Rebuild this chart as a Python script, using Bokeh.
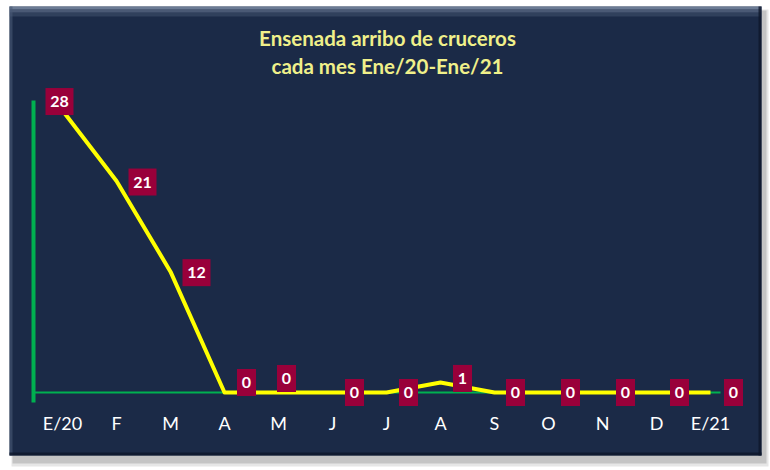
from bokeh.plotting import figure
from bokeh.models import Range1d, BoxAnnotation, Label, ColumnDataSource, FixedTicker
from bokeh.core.properties import value
from bokeh.embed import file_html
from bokeh.resources import INLINE

# ---- data ----
months = ["E/20", "F", "M", "A", "M", "J", "J", "A", "S", "O", "N", "D", "E/21"]
cruceros = [28, 21, 12, 0, 0, 0, 0, 1, 0, 0, 0, 0, 0]
title_lines = ["Ensenada arribo de cruceros", "cada mes Ene/20-Ene/21"]

# ---- label placement (pixels, style only) ----
label_dx = [-3, 26, 26, 22, 8, 22, 22, 22, 21, 22, 23, 23, 23]
label_dy = [9, -1, -1, 10, 14, 0, 0, 4, 0, 0, 0, 0, 0]   # upward

W, H = 770, 470
X0, DX = 62.0, 54.0      # pixel of first month, pixels per month
Y0, DY = 392.0, 10.07    # pixel of zero, pixels per unit


def X(px):
    return (px - X0) / DX


def Y(py):
    return (Y0 - py) / DY


p = figure(width=W, height=H, output_backend="svg", toolbar_location=None,
           x_range=Range1d(X(0), X(W)), y_range=Range1d(Y(H), Y(0)),
           min_border=0, outline_line_color=None,
           background_fill_color="white", border_fill_color="white")
p.grid.visible = False

# panel with shadow and bevel
def box(l, r, t, b, color, alpha=1.0):
    bx = BoxAnnotation(left=X(l), right=X(r), top=Y(t), bottom=Y(b),
                       fill_color=color, fill_alpha=alpha, line_color=None,
                       level="image")
    p.add_layout(bx)

box(11, 768, 9, 466, "#E6E6E6")
box(12, 766, 10, 463, "#C4C4C4")
box(9, 761, 6, 455, "#1B2A47")
box(9, 761, 6, 9, "#8090A8", 0.8)
box(9, 761, 9, 12, "#6A7A94", 0.6)
box(9, 761, 12, 16, "#5A6A85", 0.35)
box(9, 12, 6, 455, "#4A5A76", 0.6)
box(758, 761, 6, 455, "#0E172A", 0.8)
box(9, 761, 452, 455, "#0E172A", 0.8)

# axes
p.xaxis.fixed_location = 0
p.xaxis.bounds = (X(33), X(720))
p.xaxis.ticker = FixedTicker(ticks=list(range(len(months))))
p.xaxis.major_label_overrides = {i: m for i, m in enumerate(months)}
p.xaxis.axis_line_color = "#00B050"
p.xaxis.axis_line_width = 2
p.xaxis.major_tick_line_color = None
p.xaxis.minor_tick_line_color = None
p.xaxis.major_tick_out = 0
p.xaxis.major_tick_in = 0
p.xaxis.major_label_standoff = 19
p.xaxis.major_label_text_color = "white"
p.xaxis.major_label_text_font = "Lato"
p.xaxis.major_label_text_font_size = "18px"

p.yaxis.fixed_location = X(33)
p.yaxis.bounds = (Y(402), Y(100))
p.yaxis.ticker = FixedTicker(ticks=[])
p.yaxis.axis_line_color = "#00B050"
p.yaxis.axis_line_width = 4
p.yaxis.major_tick_line_color = None
p.yaxis.minor_tick_line_color = None
p.yaxis.major_label_text_color = None

# title
for i, t in enumerate(title_lines):
    p.add_layout(Label(x=X(387), y=Y(37 + 28 * i), text=t,
                       text_align="center", text_baseline="middle",
                       text_color="#F0F08A", text_font="Lato",
                       text_font_style="bold", text_font_size="20.5px"))

labels = [str(v) for v in cruceros]
xs = list(range(len(months)))
src = ColumnDataSource(dict(
    x=xs, y=cruceros, label=labels,
    lx=[x + d / DX for x, d in zip(xs, label_dx)],
    ly=[y + d / DY for y, d in zip(cruceros, label_dy)],
    bw=[10 + 9 * len(s) for s in labels],
))

p.line(x="x", y="y", source=src, line_color="#FFFF00", line_width=4,
       line_join="round", level="overlay")

p.rect(x="lx", y="ly", width="bw", height=27, width_units="screen",
       height_units="screen", source=src, fill_color="#99003A",
       line_color=None, level="overlay")
p.text(x="lx", y="ly", text="label", source=src,
       text_align="center", text_baseline="middle", text_color="white",
       text_font=value("Lato"), text_font_style="bold", text_font_size="16px",
       level="overlay")

open("out.html", "w").write(file_html(p, INLINE))
